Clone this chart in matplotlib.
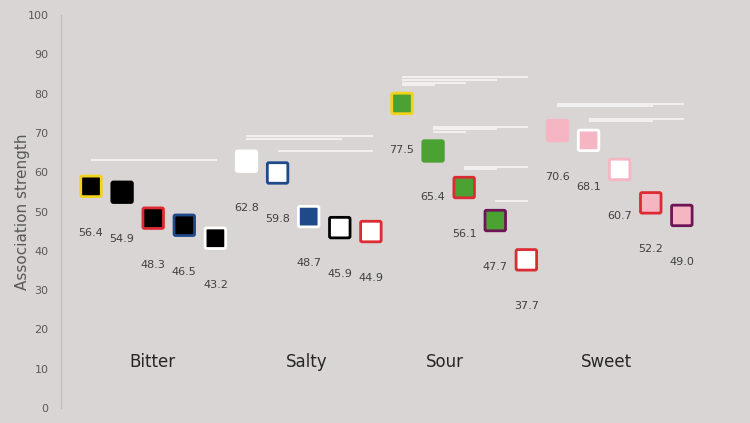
import matplotlib.pyplot as plt
from matplotlib.patches import FancyBboxPatch
import numpy as np

# data
tastes = ['Bitter', 'Salty', 'Sour', 'Sweet']
bitter = [56.4, 54.9, 48.3, 46.5, 43.2]
salty = [62.8, 59.8, 48.7, 45.9, 44.9]
sour = [77.5, 65.4, 56.1, 47.7, 37.7]
sweet = [70.6, 68.1, 60.7, 52.2, 49.0]
values = [bitter, salty, sour, sweet]

# comparison bars: (taste index, from item, to item, height)
bars = [
    (0, 0, 4, 63.0),
    (1, 0, 4, 69.3), (1, 0, 3, 68.5), (1, 1, 4, 65.3),
    (2, 0, 4, 84.1), (2, 0, 3, 83.4), (2, 0, 2, 82.8), (2, 0, 1, 82.1),
    (2, 1, 4, 71.5), (2, 1, 3, 70.9), (2, 1, 2, 70.3),
    (2, 2, 4, 61.3), (2, 2, 3, 60.8),
    (2, 3, 4, 52.6),
    (3, 0, 4, 77.3), (3, 0, 3, 76.8), (3, 1, 4, 73.6), (3, 1, 3, 73.0),
]

# styles
bg = '#d9d5d4'
black, white = '#000000', '#ffffff'
yellow, red, blue, purple = '#f2d21b', '#dc2b33', '#1f4a8a', '#6e1557'
green, pink = '#4ba232', '#f6b5c2'
faces = [
    [black, black, black, black, black],
    [white, white, blue, white, white],
    [green, green, green, green, white],
    [pink, pink, white, pink, pink],
]
edges = [
    [yellow, None, red, blue, white],
    [None, blue, white, black, red],
    [yellow, None, red, purple, red],
    [None, white, pink, red, purple],
]
label_x = [1.97, 6.95, 11.38, 16.56]

fig = plt.figure(figsize=(7.5, 4.23), dpi=100, facecolor=bg)
ax = fig.add_axes([61 / 750, 15 / 423, 679 / 750, 393 / 423])
ax.set_facecolor(bg)

ax.set_xlim(-0.965, 20.87)
ax.set_ylim(0, 100)

def xpos(g, i):
    return g * 5 + i

# comparison lines
for g, i, j, y in bars:
    ax.plot([xpos(g, i), xpos(g, j) + 0.06], [y, y], color='#f4f2f2', lw=1.3,
            solid_capstyle='butt', zorder=2)

# squares
w = 0.66          # width in x units
h = w * 31.1 / 3.93  # matching height in y units
for g, vals in enumerate(values):
    for i, v in enumerate(vals):
        x = xpos(g, i)
        ec = edges[g][i] or faces[g][i]
        box = FancyBboxPatch((x - w / 2, v - h / 2), w, h,
                             boxstyle='round,pad=0,rounding_size=0.05',
                             mutation_aspect=h / w,
                             facecolor=faces[g][i], edgecolor=ec,
                             linewidth=2.0, zorder=3)
        ax.add_patch(box)
        ax.text(x, v - 11.8, f'{v:.1f}', ha='center', va='center',
                fontsize=8, color='#404040', zorder=4)

for name, lx in zip(tastes, label_x):
    ax.text(lx, 11.7, name, ha='center', va='center', fontsize=12,
            color='#262626')

ax.set_yticks(np.arange(0, 101, 10))
ax.set_xticks([])
ax.tick_params(axis='y', length=0, labelsize=8, labelcolor='#595959', pad=9)
for s in ['top', 'right', 'bottom']:
    ax.spines[s].set_visible(False)
ax.spines['left'].set_color('#bcbcbc')
ax.spines['left'].set_linewidth(0.8)
ax.set_ylabel('Association strength', fontsize=11, color='#595959', labelpad=-2)

fig.savefig('out.png', dpi=100, facecolor=bg)
